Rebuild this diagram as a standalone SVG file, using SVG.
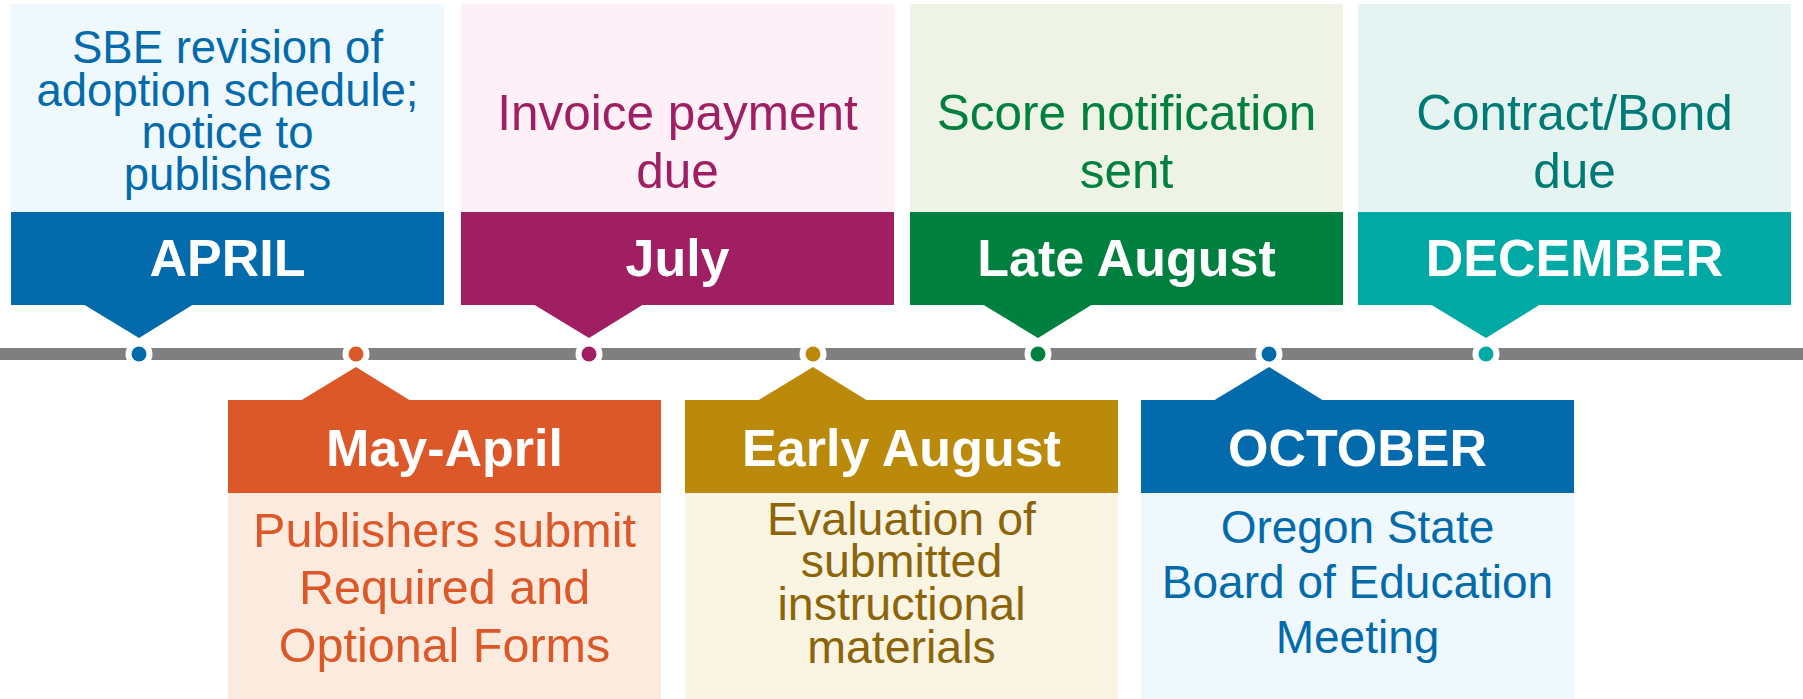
<svg xmlns="http://www.w3.org/2000/svg" width="1803" height="699" viewBox="0 0 1803 699">
<style>
text{font-family:"Liberation Sans",Arial,sans-serif;text-anchor:middle}
.t{font-weight:bold;font-size:52px;fill:#fff}
.d{font-size:49.5px}
.blueD{fill:#036BAC}.blueL{fill:#EFF8FC}
.magD{fill:#A01F63}.magL{fill:#FDF0F6}
.grnD{fill:#00803F}.grnL{fill:#EFF3E6}
.tealD{fill:#00A9A4}.tealL{fill:#E5F4F1}.tealT{fill:#007A74}
.orD{fill:#DD5828}.orL{fill:#FBEBDF}
.goD{fill:#BB8A0B}.goL{fill:#FAF4E3}.goT{fill:#8C650A}
.ring{fill:#fff}
</style>
<rect width="1803" height="699" fill="#fff"/>

<g id="connectors">
<rect x="0" y="348" width="1803" height="12" fill="#7F7F7F"/>
<g class="ring">
<circle cx="139" cy="354" r="13.5"/><circle cx="356" cy="354" r="13.5"/><circle cx="589" cy="354" r="13.5"/><circle cx="813" cy="354" r="13.5"/><circle cx="1038" cy="354" r="13.5"/><circle cx="1269" cy="354" r="13.5"/><circle cx="1486" cy="354" r="13.5"/>
</g>
<circle class="blueD" cx="139" cy="354" r="7.5"/>
<circle class="orD" cx="356" cy="354" r="7.5"/>
<circle class="magD" cx="589" cy="354" r="7.5"/>
<circle class="goD" cx="813" cy="354" r="7.5"/>
<circle class="grnD" cx="1038" cy="354" r="7.5"/>
<circle class="blueD" cx="1269" cy="354" r="7.5"/>
<circle class="tealD" cx="1486" cy="354" r="7.5"/>
</g>

<g id="april">
<rect class="blueL" x="11" y="4" width="433" height="208"/>
<rect class="blueD" x="11" y="212" width="433" height="93"/>
<polygon class="blueD" points="83,304 194,304 139,338"/>
<text class="blueD" font-size="45.5"><tspan x="227.5" y="63">SBE revision of</tspan><tspan x="227.5" y="106">adoption schedule;</tspan><tspan x="227.5" y="148">notice to</tspan><tspan x="227.5" y="190">publishers</tspan></text>
<text class="t" x="227.5" y="276">APRIL</text>
</g>

<g id="july">
<rect class="magL" x="461" y="4" width="433" height="208"/>
<rect class="magD" x="461" y="212" width="433" height="93"/>
<polygon class="magD" points="533,304 644,304 589,338"/>
<text class="magD d"><tspan x="677.5" y="130">Invoice payment</tspan><tspan x="677.5" y="188">due</tspan></text>
<text class="t" x="677.5" y="276">July</text>
</g>

<g id="late-august">
<rect class="grnL" x="910" y="4" width="433" height="208"/>
<rect class="grnD" x="910" y="212" width="433" height="93"/>
<polygon class="grnD" points="982,304 1093,304 1038,338"/>
<text class="grnD d"><tspan x="1126.5" y="130">Score notification</tspan><tspan x="1126.5" y="188">sent</tspan></text>
<text class="t" x="1126.5" y="276">Late August</text>
</g>

<g id="december">
<rect class="tealL" x="1358" y="4" width="433" height="208"/>
<rect class="tealD" x="1358" y="212" width="433" height="93"/>
<polygon class="tealD" points="1430,304 1541,304 1486,338"/>
<text class="tealT d"><tspan x="1574.5" y="130">Contract/Bond</tspan><tspan x="1574.5" y="188">due</tspan></text>
<text class="t" x="1574.5" y="276">DECEMBER</text>
</g>

<g id="may-april">
<polygon class="orD" points="300,401 411,401 356,367"/>
<rect class="orD" x="228" y="400" width="433" height="93"/>
<rect class="orL" x="228" y="493" width="433" height="206"/>
<text class="t" x="444.5" y="466">May-April</text>
<text class="orD" font-size="48.5"><tspan x="444.5" y="547">Publishers submit</tspan><tspan x="444.5" y="604">Required and</tspan><tspan x="444.5" y="662">Optional Forms</tspan></text>
</g>

<g id="early-august">
<polygon class="goD" points="757,401 868,401 813,367"/>
<rect class="goD" x="685" y="400" width="433" height="93"/>
<rect class="goL" x="685" y="493" width="433" height="206"/>
<text class="t" x="901.5" y="466">Early August</text>
<text class="goT" font-size="46.5"><tspan x="901.5" y="535">Evaluation of</tspan><tspan x="901.5" y="577">submitted</tspan><tspan x="901.5" y="620">instructional</tspan><tspan x="901.5" y="663">materials</tspan></text>
</g>

<g id="october">
<polygon class="blueD" points="1213,401 1324,401 1269,367"/>
<rect class="blueD" x="1141" y="400" width="433" height="93"/>
<rect class="blueL" x="1141" y="493" width="433" height="206"/>
<text class="t" x="1357.5" y="466">OCTOBER</text>
<text class="blueD" font-size="46"><tspan x="1357.5" y="543">Oregon State</tspan><tspan x="1357.5" y="598">Board of Education</tspan><tspan x="1357.5" y="653">Meeting</tspan></text>
</g>
</svg>
